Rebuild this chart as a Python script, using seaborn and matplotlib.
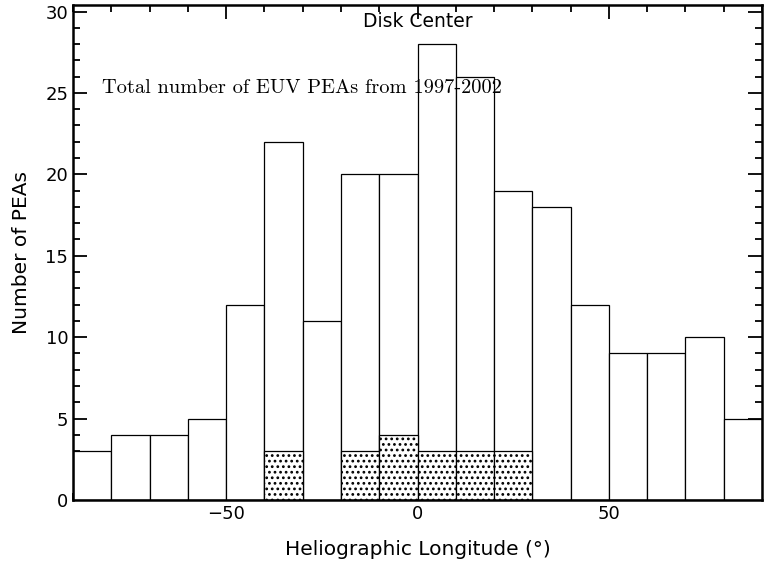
import numpy as np
import pandas as pd
import matplotlib
matplotlib.use("Agg")
import matplotlib.pyplot as plt
import seaborn as sns
from matplotlib.ticker import MultipleLocator

sns.set_style("ticks")
plt.rcParams["font.family"] = ["DejaVu Sans"]
plt.rcParams["hatch.linewidth"] = 1.2
for k in ["text.color", "axes.labelcolor", "xtick.color", "ytick.color", "axes.edgecolor"]:
    plt.rcParams[k] = "black"

# bin edges (heliographic longitude, degrees) and counts
bin_edges = list(range(-90, 91, 10))
all_counts = [3, 4, 4, 5, 12, 22, 11, 20, 20, 28, 26, 19, 18, 12, 9, 9, 10, 5]
center_counts = [0, 0, 0, 0, 0, 3, 0, 3, 4, 3, 3, 3, 0, 0, 0, 0, 0, 0]

centers = [(a + b) / 2 for a, b in zip(bin_edges[:-1], bin_edges[1:])]
df = pd.DataFrame({"lon": centers, "all": all_counts, "center": center_counts})

fig = plt.figure(figsize=(7.64, 5.63), dpi=100)
ax = fig.add_axes([73 / 764, 63 / 563, 689 / 764, 495 / 563])

sns.histplot(data=df, x="lon", weights="all", bins=bin_edges, ax=ax,
             color="white", edgecolor="black", linewidth=0.9, alpha=1)
sns.histplot(data=df, x="lon", weights="center", bins=bin_edges, ax=ax,
             color="white", edgecolor="black", linewidth=0.9, alpha=1, hatch="...")

ax.set_xlim(-90, 90)
ax.set_ylim(0, 30.4)
ax.set_xticks([-50, 0, 50])
ax.set_yticks([0, 5, 10, 15, 20, 25, 30])
ax.xaxis.set_minor_locator(MultipleLocator(10))
ax.yaxis.set_minor_locator(MultipleLocator(1))
ax.tick_params(which="both", direction="in", top=True, right=True, width=1.3,
               labelsize=13)
ax.tick_params(which="major", length=10)
ax.tick_params(which="minor", length=5)
for s in ax.spines.values():
    s.set_visible(True)
    s.set_linewidth(1.8)

ax.set_xlabel("Heliographic Longitude (°)", fontsize=14.5, labelpad=12)
ax.set_ylabel("Number of PEAs", fontsize=14.5, labelpad=10)

ax.text(0, 29.4, "Disk Center", ha="center", va="center", fontsize=13.5)
ax.text(-82.3, 25.3, "Total number of EUV PEAs from 1997-2002", ha="left",
        va="center", fontsize=14.7, family=["cmr10", "DejaVu Serif"])

fig.savefig("out.png", dpi=100)
